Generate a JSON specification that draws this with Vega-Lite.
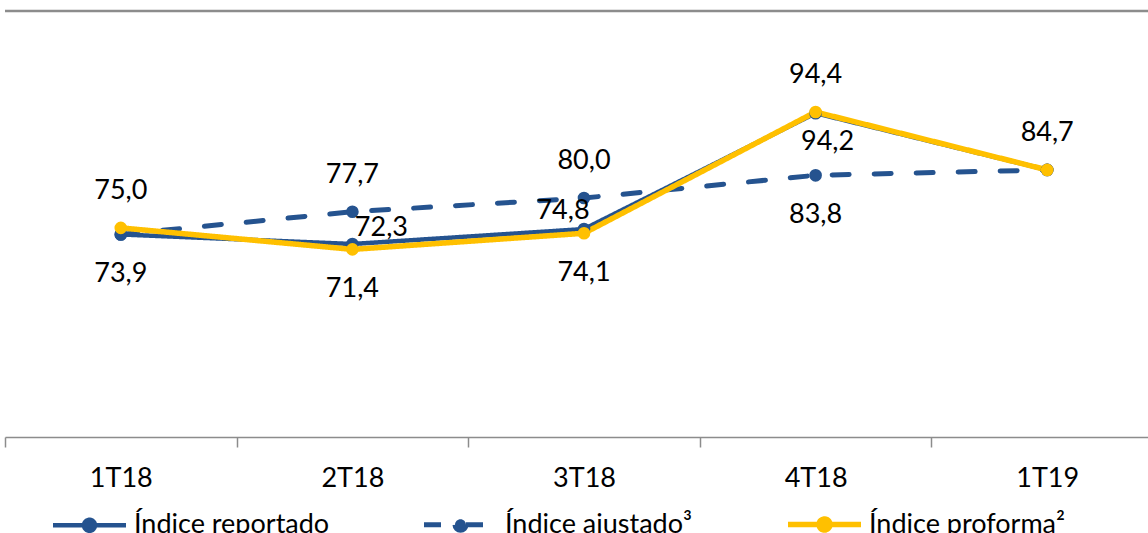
{
  "$schema": "https://vega.github.io/schema/vega-lite/v6.json",
  "width": 1158,
  "height": 426,
  "autosize": {"type": "none"},
  "padding": {"left": 5, "top": 11, "right": 0, "bottom": 96},
  "config": {
    "view": {"stroke": null},
    "font": "Lato",
    "locale": {"number": {"decimal": ",", "thousands": ".", "grouping": [3], "currency": ["", " €"]}}
  },
  "data": {
    "values": [
      {"q": "1T18", "serie": "Índice ajustado³", "v": 73.9},
      {"q": "2T18", "serie": "Índice ajustado³", "v": 77.7},
      {"q": "3T18", "serie": "Índice ajustado³", "v": 80.0},
      {"q": "4T18", "serie": "Índice ajustado³", "v": 83.8},
      {"q": "1T19", "serie": "Índice ajustado³", "v": 84.7},
      {"q": "1T18", "serie": "Índice reportado", "v": 73.9},
      {"q": "2T18", "serie": "Índice reportado", "v": 72.3},
      {"q": "3T18", "serie": "Índice reportado", "v": 74.8},
      {"q": "4T18", "serie": "Índice reportado", "v": 94.2},
      {"q": "1T19", "serie": "Índice reportado", "v": 84.7},
      {"q": "1T18", "serie": "Índice proforma²", "v": 75.0},
      {"q": "2T18", "serie": "Índice proforma²", "v": 71.4},
      {"q": "3T18", "serie": "Índice proforma²", "v": 74.1},
      {"q": "4T18", "serie": "Índice proforma²", "v": 94.4},
      {"q": "1T19", "serie": "Índice proforma²", "v": 84.7}
    ]
  },
  "layer": [
    {
      "mark": {"type": "rule", "color": "#8c8c8c", "strokeWidth": 2.5},
      "transform": [{"filter": "datum.q == '1T18' && datum.serie == 'Índice reportado'"}],
      "encoding": {"y": {"datum": 111.3, "type": "quantitative", "scale": {"domain": [40, 111.3], "nice": false, "zero": false}, "axis": null}}
    },
    {
      "mark": {"type": "line", "strokeCap": "round"},
      "encoding": {
        "x": {
          "field": "q", "type": "ordinal", "sort": ["1T18", "2T18", "3T18", "4T18", "1T19"],
          "scale": {"type": "band", "paddingInner": 0, "paddingOuter": 0},
          "axis": {"title": null, "labelAngle": 0, "labelFont": "Lato", "labelFontSize": 27, "labelColor": "#000000",
                   "domainColor": "#8c8c8c", "domainWidth": 1.5, "tickColor": "#8c8c8c", "tickWidth": 1.5,
                   "tickSize": 10, "tickBand": "extent", "labelPadding": 18, "grid": false}
        },
        "y": {"field": "v", "type": "quantitative", "scale": {"domain": [40, 111.3], "nice": false, "zero": false}, "axis": null},
        "color": {
          "field": "serie", "type": "nominal",
          "scale": {"domain": ["Índice reportado", "Índice ajustado³", "Índice proforma²"], "range": ["#25538f", "#25538f", "#ffc000"]},
          "legend": {
            "orient": "none", "legendX": 45, "legendY": 474, "direction": "horizontal", "columns": 3, "title": null,
            "symbolType": "M-1,0L1,0M0.15,0A0.15,0.15,0,1,1,-0.15,0A0.15,0.15,0,1,1,0.15,0Z",
            "symbolSize": 5329, "symbolStrokeWidth": 5,
            "labelFont": "Lato", "labelFontSize": 27, "labelColor": "#000000", "labelOffset": 5, "labelLimit": 400,
            "columnPadding": 84,
            "encode": {"symbols": {"update": {"fill": {"scale": "color", "field": "value"}, "stroke": {"scale": "color", "field": "value"}}}}
          }
        },
        "strokeDash": {
          "field": "serie", "type": "nominal",
          "scale": {"domain": ["Índice reportado", "Índice ajustado³", "Índice proforma²"], "range": [[1, 0], [17, 25], [1, 0]]},
          "legend": {
            "orient": "none", "legendX": 45, "legendY": 474, "direction": "horizontal", "columns": 3, "title": null,
            "symbolType": "M-1,0L1,0M0.15,0A0.15,0.15,0,1,1,-0.15,0A0.15,0.15,0,1,1,0.15,0Z",
            "symbolSize": 5329, "symbolStrokeWidth": 5,
            "labelFont": "Lato", "labelFontSize": 27, "labelColor": "#000000", "labelOffset": 5, "labelLimit": 400,
            "columnPadding": 84,
            "encode": {"symbols": {"update": {"fill": {"scale": "color", "field": "value"}, "stroke": {"scale": "color", "field": "value"}}}}
          }
        },
        "strokeWidth": {
          "field": "serie", "type": "nominal",
          "scale": {"domain": ["Índice reportado", "Índice ajustado³", "Índice proforma²"], "range": [4.5, 5.5, 5.5]},
          "legend": null
        }
      }
    },
    {
      "mark": {"type": "point", "filled": true, "opacity": 1, "size": 160},
      "encoding": {
        "x": {"field": "q", "type": "ordinal", "sort": ["1T18", "2T18", "3T18", "4T18", "1T19"]},
        "y": {"field": "v", "type": "quantitative"},
        "color": {"field": "serie", "type": "nominal", "legend": null}
      }
    },
    {
      "transform": [{"filter": "(datum.serie == 'Índice proforma²' && (datum.q == '1T18' || datum.q == '4T18' || datum.q == '1T19')) || (datum.serie == 'Índice ajustado³' && (datum.q == '2T18' || datum.q == '3T18'))"}],
      "mark": {"type": "text", "fontSize": 27, "font": "Lato", "color": "#000000", "dy": -37, "baseline": "middle"},
      "encoding": {
        "x": {"field": "q", "type": "ordinal", "sort": ["1T18", "2T18", "3T18", "4T18", "1T19"]},
        "y": {"field": "v", "type": "quantitative"},
        "text": {"field": "v", "type": "quantitative", "format": ".1f"}
      }
    },
    {
      "transform": [{"filter": "(datum.serie == 'Índice reportado' && datum.q == '1T18') || (datum.serie == 'Índice proforma²' && (datum.q == '2T18' || datum.q == '3T18')) || (datum.serie == 'Índice ajustado³' && datum.q == '4T18')"}],
      "mark": {"type": "text", "fontSize": 27, "font": "Lato", "color": "#000000", "dy": 40, "baseline": "middle"},
      "encoding": {
        "x": {"field": "q", "type": "ordinal", "sort": ["1T18", "2T18", "3T18", "4T18", "1T19"]},
        "y": {"field": "v", "type": "quantitative"},
        "text": {"field": "v", "type": "quantitative", "format": ".1f"}
      }
    },
    {
      "transform": [{"filter": "datum.serie == 'Índice reportado' && datum.q == '2T18'"}],
      "mark": {"type": "text", "fontSize": 27, "font": "Lato", "color": "#000000", "dx": 29, "dy": -16, "baseline": "middle"},
      "encoding": {
        "x": {"field": "q", "type": "ordinal", "sort": ["1T18", "2T18", "3T18", "4T18", "1T19"]},
        "y": {"field": "v", "type": "quantitative"},
        "text": {"field": "v", "type": "quantitative", "format": ".1f"}
      }
    },
    {
      "transform": [{"filter": "datum.serie == 'Índice reportado' && datum.q == '3T18'"}],
      "mark": {"type": "text", "fontSize": 27, "font": "Lato", "color": "#000000", "dx": -21, "dy": -18, "baseline": "middle"},
      "encoding": {
        "x": {"field": "q", "type": "ordinal", "sort": ["1T18", "2T18", "3T18", "4T18", "1T19"]},
        "y": {"field": "v", "type": "quantitative"},
        "text": {"field": "v", "type": "quantitative", "format": ".1f"}
      }
    },
    {
      "transform": [{"filter": "datum.serie == 'Índice reportado' && datum.q == '4T18'"}],
      "mark": {"type": "text", "fontSize": 27, "font": "Lato", "color": "#000000", "dx": 12, "dy": 29, "baseline": "middle"},
      "encoding": {
        "x": {"field": "q", "type": "ordinal", "sort": ["1T18", "2T18", "3T18", "4T18", "1T19"]},
        "y": {"field": "v", "type": "quantitative"},
        "text": {"field": "v", "type": "quantitative", "format": ".1f"}
      }
    }
  ]
}
